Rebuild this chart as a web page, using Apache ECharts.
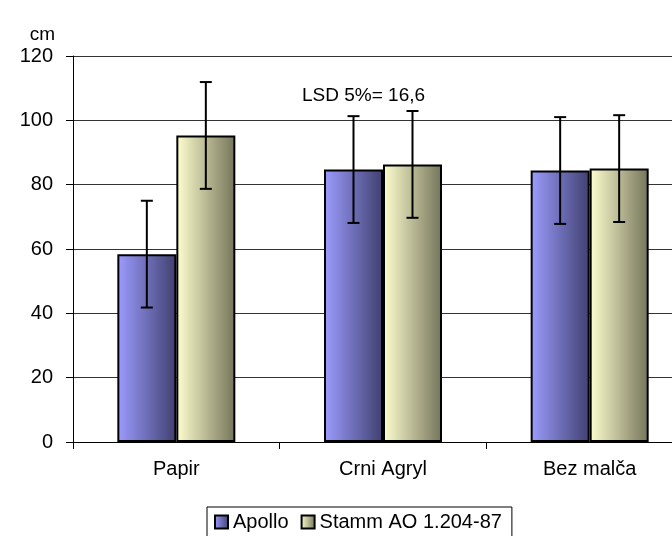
<!DOCTYPE html>
<html>
<head>
<meta charset="utf-8">
<script src="https://cdn.jsdelivr.net/npm/echarts@6/dist/echarts.min.js"></script>
<style>
html,body{margin:0;padding:0;background:#fff;overflow:hidden;}
#chart{width:700px;height:536px;}
</style>
</head>
<body>
<div id="chart"></div>
<script>
// ---- data ----
var categories = ['Papir', 'Crni Agryl', 'Bez malča'];
var seriesNames = ['Apollo', 'Stamm AO 1.204-87'];
var apolloValues = [58.4, 84.7, 84.4];
var stammValues = [95.3, 86.3, 85.0];
var apolloErr = [16.6, 16.6, 16.6];
var stammErr = [16.6, 16.6, 16.6];
var yTicks = [0, 20, 40, 60, 80, 100, 120];
var lsdLabel = 'LSD 5%= 16,6';
var unitLabel = 'cm';

// ---- styles ----
var FONT = 'Liberation Sans, Arial, sans-serif';
var BAR_W = 59;

function grad(c0, c1) {
  return new echarts.graphic.LinearGradient(0, 0, 1, 0, [
    {offset: 0, color: c0},
    {offset: 1, color: c1}
  ]);
}
var apolloFill = grad('#9c9cff', '#404070');
var stammFill = grad('#ffffd0', '#74745a');

function errSeries(name, values, errs, sign) {
  var data = values.map(function (v, i) { return [i, v - errs[i], v + errs[i]]; });
  return {
    type: 'custom',
    name: name + ' err',
    data: data,
    z: 10,
    silent: true,
    renderItem: function (params, api) {
      var lo = api.coord([api.value(0), api.value(1)]);
      var hi = api.coord([api.value(0), api.value(2)]);
      var x = lo[0] + sign * BAR_W / 2;
      var cap = 6;
      var st = {stroke: '#000', lineWidth: 2};
      return {
        type: 'group',
        children: [
          {type: 'line', shape: {x1: x, y1: lo[1], x2: x, y2: hi[1]}, style: st},
          {type: 'line', shape: {x1: x - cap, y1: lo[1], x2: x + cap, y2: lo[1]}, style: st},
          {type: 'line', shape: {x1: x - cap, y1: hi[1], x2: x + cap, y2: hi[1]}, style: st}
        ]
      };
    },
    encode: {x: 0, y: [1, 2]}
  };
}

var chart = echarts.init(document.getElementById('chart'), null, {renderer: 'canvas'});
chart.setOption({
  animation: false,
  backgroundColor: '#fff',
  textStyle: {fontFamily: FONT},
  grid: {left: 73, top: 56, right: 7, height: 386, containLabel: false},
  legend: {
    data: seriesNames,
    left: 207,
    top: 507,
    orient: 'horizontal',
    icon: 'rect',
    itemWidth: 13,
    itemHeight: 13,
    itemGap: 12,
    padding: [5, 10, 14, 7],
    borderColor: '#000',
    borderWidth: 1,
    backgroundColor: '#fff',
    textStyle: {fontFamily: FONT, fontSize: 20, color: '#000', padding: [0, 0, 0, 0]}
  },
  xAxis: {
    type: 'category',
    data: categories,
    axisLine: {lineStyle: {color: '#000', width: 1}},
    axisTick: {show: true, length: 7, lineStyle: {color: '#000'}},
    axisLabel: {fontFamily: FONT, fontSize: 20, color: '#000', margin: 17},
    splitLine: {show: false}
  },
  yAxis: {
    type: 'value',
    min: yTicks[0],
    max: yTicks[yTicks.length - 1],
    interval: yTicks[1] - yTicks[0],
    name: unitLabel,
    nameLocation: 'end',
    nameGap: 12,
    nameTextStyle: {fontFamily: FONT, fontSize: 19, color: '#000', align: 'right', padding: [0, 18, 0, 0]},
    axisLine: {show: true, lineStyle: {color: '#000', width: 1}},
    axisTick: {show: true, length: 7, lineStyle: {color: '#000'}},
    axisLabel: {fontFamily: FONT, fontSize: 20, color: '#000', margin: 20},
    splitLine: {show: true, lineStyle: {color: '#333', width: 1}}
  },
  graphic: [{
    type: 'text',
    left: 302,
    top: 86,
    style: {text: lsdLabel, font: '19px ' + FONT, fill: '#000'}
  }],
  series: [
    {
      type: 'bar',
      name: seriesNames[0],
      data: apolloValues,
      barWidth: BAR_W,
      barGap: '0%',
      itemStyle: {color: apolloFill, borderColor: '#000', borderWidth: 2}
    },
    {
      type: 'bar',
      name: seriesNames[1],
      data: stammValues,
      barWidth: BAR_W,
      barGap: '0%',
      itemStyle: {color: stammFill, borderColor: '#000', borderWidth: 2}
    },
    errSeries(seriesNames[0], apolloValues, apolloErr, -1),
    errSeries(seriesNames[1], stammValues, stammErr, 1)
  ]
});
</script>
</body>
</html>
